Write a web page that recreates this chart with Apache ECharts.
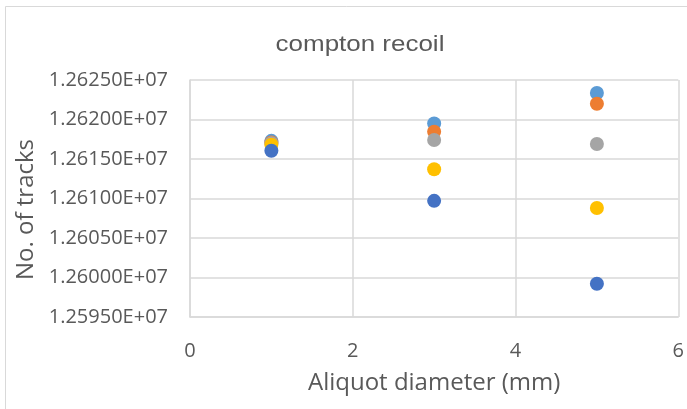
<!DOCTYPE html>
<html>
<head>
<meta charset="utf-8">
<script src="https://cdn.jsdelivr.net/npm/echarts@6/dist/echarts.min.js"></script>
<style>
  html, body { margin: 0; padding: 0; background: #fff; }
  #chart { width: 687px; height: 409px; }
</style>
</head>
<body>
<div id="chart"></div>
<script>
// Aliquot diameters (mm) and track counts for each run
const diameters = [1, 3, 5];
const seriesNames = ['Series 5', 'Series 2', 'Series 3', 'Series 4', 'Series 1'];
const seriesColors = ['#5B9BD5', '#ED7D31', '#A5A5A5', '#FFC000', '#4472C4'];
const tracksLightBlue = [12617300, 12619500, 12623350];
const tracksOrange = [12617100, 12618450, 12622000];
const tracksGray = [12617000, 12617400, 12616900];
const tracksYellow = [12616800, 12613700, 12608800];
const tracksDarkBlue = [12616050, 12609700, 12599200];
const seriesValues = [tracksLightBlue, tracksOrange, tracksGray, tracksYellow, tracksDarkBlue];

const chartTitle = 'compton recoil';
const xTickLabels = ['0', '2', '4', '6'];
const yTickLabels = ['1.25950E+07', '1.26000E+07', '1.26050E+07', '1.26100E+07',
                     '1.26150E+07', '1.26200E+07', '1.26250E+07'];
const yMin = 12595000, yMax = 12625000, yStep = 5000;

const textColor = '#595959';
const gridColor = '#D9D9D9';
const labelFont = '"Open Sans", "Liberation Sans", sans-serif';

const chart = echarts.init(document.getElementById('chart'), null, { renderer: 'canvas' });

chart.setOption({
  animation: false,
  backgroundColor: '#fff',
  graphic: [
    {
      // outer chart frame
      type: 'rect',
      shape: { x: 5.5, y: 6.5, width: 700, height: 420 },
      style: { fill: 'none', stroke: '#D9D9D9', lineWidth: 1 },
      silent: true
    },
    {
      // chart title, slightly widened lettering
      type: 'text',
      x: 360,
      y: 45,
      scaleX: 1.18,
      silent: true,
      style: {
        text: chartTitle,
        align: 'center',
        verticalAlign: 'middle',
        textAlign: 'center',
        textVerticalAlign: 'middle',
        font: '22px "Liberation Sans", Arial, sans-serif',
        fill: textColor
      }
    }
  ],
  grid: { left: 190, top: 80, right: 8, bottom: 92, containLabel: false },
  xAxis: {
    type: 'value',
    min: 0, max: 6, interval: 2,
    name: 'Aliquot diameter (mm)',
    nameLocation: 'middle',
    nameGap: 54,
    nameTextStyle: { fontFamily: labelFont, fontSize: 24, color: textColor },
    axisLine: { show: true, lineStyle: { color: gridColor, width: 1.5 } },
    axisTick: { show: false },
    axisLabel: {
      fontFamily: labelFont, fontSize: 20, color: textColor, margin: 24,
      formatter: (v) => xTickLabels[Math.round(v / 2)]
    },
    splitLine: { show: true, lineStyle: { color: gridColor, width: 1.5 } }
  },
  yAxis: {
    type: 'value',
    min: yMin, max: yMax, interval: yStep,
    name: 'No. of tracks',
    nameLocation: 'middle',
    nameGap: 152,
    nameTextStyle: { fontFamily: labelFont, fontSize: 24, color: textColor, padding: [0, 22, 0, 0] },
    axisLine: { show: true, lineStyle: { color: gridColor, width: 1.5 } },
    axisTick: { show: false },
    axisLabel: {
      fontFamily: labelFont, fontSize: 20, color: textColor, margin: 22,
      formatter: (v) => yTickLabels[Math.round((v - yMin) / yStep)]
    },
    splitLine: { show: true, lineStyle: { color: gridColor, width: 1.5 } }
  },
  series: seriesValues.map((vals, i) => ({
    name: seriesNames[i],
    type: 'scatter',
    symbol: 'circle',
    symbolSize: 14,
    itemStyle: { color: seriesColors[i], opacity: 1 },
    data: diameters.map((d, j) => [d, vals[j]])
  }))
});
</script>
</body>
</html>
